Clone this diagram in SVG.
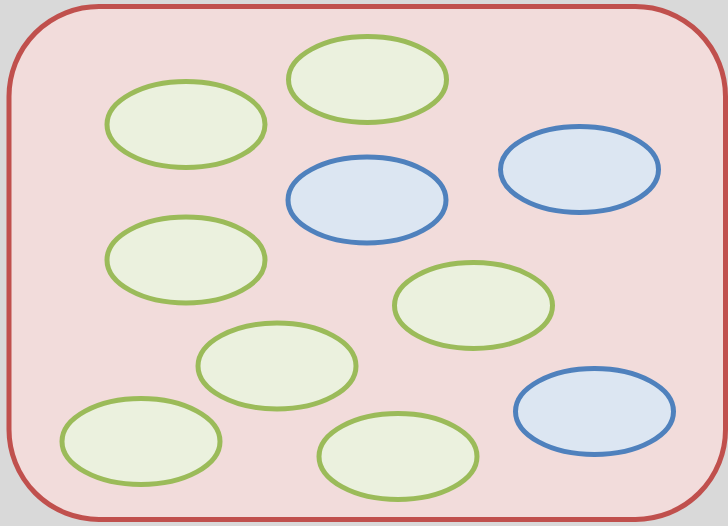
<svg xmlns="http://www.w3.org/2000/svg" width="728" height="526" viewBox="0 0 728 526">
<style>
.g{fill:#ebf1de;stroke:#9bbb59;stroke-width:5}
.b{fill:#dce6f2;stroke:#4f81bd;stroke-width:5}
</style>
<rect width="728" height="526" fill="#d9d9d9"/>
<g id="container"><rect x="9" y="6.5" width="716.5" height="513" rx="90" ry="90" fill="#f2dcdb" stroke="#c0504d" stroke-width="5"/></g>
<g id="n1"><ellipse class="g" cx="367.5" cy="79.5" rx="79" ry="43"/></g>
<g id="n2"><ellipse class="g" cx="186" cy="124.5" rx="79" ry="43"/></g>
<g id="n3"><ellipse class="b" cx="579.5" cy="169.5" rx="79" ry="43"/></g>
<g id="n4"><ellipse class="b" cx="367" cy="200" rx="79" ry="43"/></g>
<g id="n5"><ellipse class="g" cx="186" cy="260" rx="79" ry="43"/></g>
<g id="n6"><ellipse class="g" cx="473.5" cy="305.5" rx="79" ry="43"/></g>
<g id="n7"><ellipse class="g" cx="277" cy="366" rx="79" ry="43"/></g>
<g id="n8"><ellipse class="g" cx="141" cy="441.5" rx="79" ry="43"/></g>
<g id="n9"><ellipse class="g" cx="398" cy="456.5" rx="79" ry="43"/></g>
<g id="n10"><ellipse class="b" cx="594.5" cy="411.5" rx="79" ry="43"/></g>
<g id="connectors"></g>
</svg>
